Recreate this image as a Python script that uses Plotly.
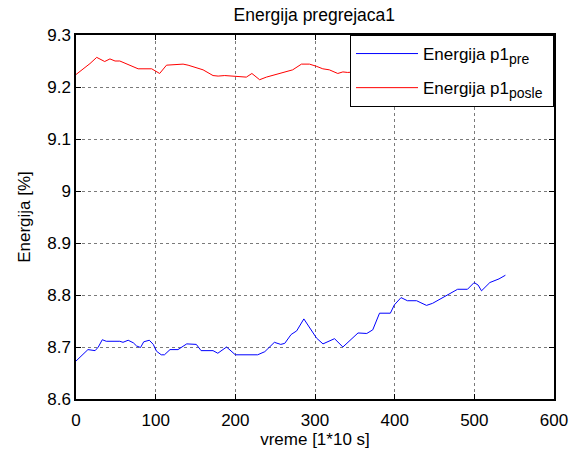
import plotly.graph_objects as go

# Blue series: Energija p1_pre
x_pre = [0, 15, 24, 28, 33, 38, 55, 59, 65.5, 72, 76, 81, 85, 92, 97, 101, 107, 111, 118, 128,
         139, 151, 157, 172, 178, 189, 200, 228, 237, 243, 249, 257, 262, 270, 277, 286,
         302, 310, 315, 324.5, 335, 343, 354, 365, 372.5, 381, 394.6, 399.6, 408, 416,
         427.6, 433, 440, 447.6, 460, 470.6, 479, 491.4, 499.8, 504.8, 509, 519.5, 531, 539]
y_pre = [8.673, 8.695, 8.693, 8.700, 8.714, 8.711, 8.711, 8.709, 8.713, 8.708, 8.702, 8.699,
         8.710, 8.713, 8.705, 8.692, 8.685, 8.685, 8.695, 8.695,
         8.706, 8.705, 8.693, 8.693, 8.688, 8.700, 8.685, 8.685, 8.691, 8.700, 8.709, 8.705,
         8.707, 8.724, 8.731, 8.754,
         8.717, 8.706, 8.709, 8.716, 8.700, 8.711, 8.727, 8.726, 8.733, 8.765, 8.765, 8.781,
         8.795, 8.789, 8.789, 8.785, 8.780, 8.784, 8.795, 8.804, 8.811, 8.811, 8.824, 8.819,
         8.808, 8.824, 8.831, 8.838]

# Red series: Energija p1_posle
x_posle = [0, 11, 17.5, 26, 36, 42.6, 49, 55, 65.5, 78, 95, 105, 113.6, 134.4, 140.7, 159.5,
           172, 178.4, 186.7, 213.8, 220.8, 230.5, 239, 259.7, 272, 283, 293, 301.5, 309.8,
           318, 328.6, 335, 341, 360, 380, 400, 420, 440, 460, 480, 500, 520, 539]
y_posle = [9.224, 9.237, 9.245, 9.257, 9.249, 9.254, 9.250, 9.250, 9.243, 9.235, 9.235,
           9.226, 9.242, 9.244, 9.242, 9.233, 9.222, 9.221, 9.222, 9.219, 9.226, 9.214,
           9.219, 9.227, 9.233, 9.244, 9.244, 9.240, 9.235, 9.233, 9.226, 9.229, 9.228,
           9.230, 9.232, 9.228, 9.231, 9.229, 9.233, 9.230, 9.234, 9.232, 9.235]

x_ticks = [0, 100, 200, 300, 400, 500, 600]
y_ticks = [8.6, 8.7, 8.8, 8.9, 9.0, 9.1, 9.2, 9.3]
y_tick_labels = ["8.6", "8.7", "8.8", "8.9", "9", "9.1", "9.2", "9.3"]

FONT = "Liberation Sans, Arial, sans-serif"
FS = 17

fig = go.Figure()
fig.add_trace(go.Scatter(x=x_pre, y=y_pre, mode="lines",
                         name="Energija p1<sub><span style='font-size:14px'>pre</span></sub>",
                         legendgroup="a", line=dict(color="#0000ff", width=1)))
fig.add_trace(go.Scatter(x=x_posle, y=y_posle, mode="lines",
                         name="Energija p1<sub><span style='font-size:14px'>posle</span></sub>&nbsp;",
                         legendgroup="b", line=dict(color="#ff0000", width=1)))

axis_common = dict(
    showline=True, linecolor="black", linewidth=1.5, mirror="ticks",
    ticks="inside", ticklen=5, tickcolor="black",
    showgrid=True, gridcolor="#7a7a7a", griddash="dot", gridwidth=1,
    zeroline=False, tickfont=dict(size=FS, color="black", family=FONT),
)

fig.update_layout(
    width=581, height=455,
    margin=dict(l=76, r=27, t=35, b=56),
    paper_bgcolor="white", plot_bgcolor="white",
    font=dict(family=FONT, color="black", size=FS),
    title=dict(text="Energija pregrejaca1", x=0.541, xanchor="center",
               yref="container", y=0.968, yanchor="middle",
               font=dict(size=17.5, color="black", family=FONT)),
    xaxis=dict(range=[0, 600], tickvals=x_ticks, ticklabelstandoff=5,
               title=dict(text="vreme [1*10 s]", standoff=1, font=dict(size=FS)),
               **axis_common),
    yaxis=dict(range=[8.6, 9.3], tickvals=y_ticks, ticktext=y_tick_labels,
               title=dict(text="Energija [%]", standoff=12, font=dict(size=FS)),
               **axis_common),
    legend=dict(x=1, y=1, xanchor="right", yanchor="top", bgcolor="white",
                bordercolor="black", borderwidth=1, font=dict(size=FS, color="black"),
                traceorder="grouped", tracegroupgap=9, itemwidth=62),
    showlegend=True,
)

fig.write_html("out.html")
